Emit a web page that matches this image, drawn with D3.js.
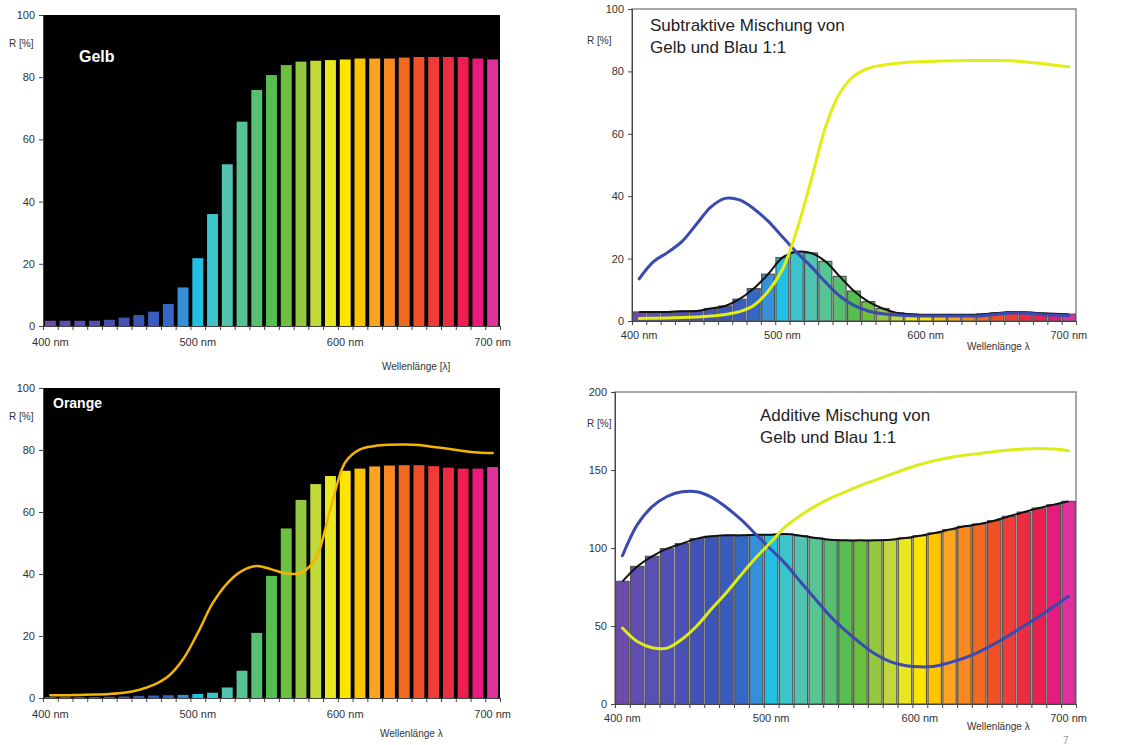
<!DOCTYPE html>
<html>
  <head>
    <meta charset="utf-8">
    <title>Gelb, Orange, Mischung</title>
    <style type="text/css">
        body { margin: 0; background: #fff; }
        svg { font-family: "Liberation Sans", Arial, sans-serif; display: block; }
        .tick text { fill: #333; }
        .domain { stroke: #444; }
        .tick line { stroke: #444; }
    </style>
  </head>
  <body>
    <svg width="1137" height="745"></svg>
    <script src="https://d3js.org/d3.v7.min.js"></script>
    <script>

    // Wavelengths (10 nm steps) and bar colours
    var wavelengths = d3.range(400, 701, 10);
    var spectrum = ["#6c4aae", "#604fb0", "#5a50b2", "#5250b4", "#4a50b4", "#4252b6", "#3c56b8",
        "#3a5cbe", "#3468c6", "#3590d8", "#22c0e2", "#3cc4cc", "#50c4b0", "#58c494", "#56c070",
        "#56be50", "#6cc040", "#94c840", "#c0d838", "#e8e820", "#ffe400", "#ffc400", "#fca420",
        "#f88820", "#f26a20", "#f05028", "#ee3c38", "#ec2c40", "#ec2050", "#e81a7c", "#e0309c"];
    var xLabels = [400, 500, 600, 700];

    // Gelb
    var gelbBars = [1.7, 1.7, 1.7, 1.7, 2, 2.7, 3.5, 4.6, 7.1, 12.4, 21.8, 36, 52, 65.7, 75.9, 80.7,
        83.9, 85, 85.3, 85.5, 85.7, 86, 86, 86, 86.3, 86.5, 86.5, 86.5, 86.5, 86, 85.7];

    // Orange
    var orangeBars = [0.3, 0.3, 0.3, 0.3, 0.4, 0.5, 0.7, 0.8, 0.9, 1.0, 1.3, 1.7, 3.4, 8.8, 21, 39.4,
        54.7, 63.9, 69, 71.6, 73.3, 74, 74.7, 75, 75.1, 75.1, 74.8, 74.3, 74, 74, 74.5];
    var orangeLine = [0.9, 0.9, 1.0, 1.1, 1.3, 1.7, 2.6, 4.2, 7, 12.5, 21, 30.5, 37, 41, 42.6, 41.5,
        40.2, 40.4, 45, 61, 76, 80.2, 81.3, 81.7, 81.8, 81.6, 81, 80.4, 79.7, 79.2, 79];

    // Subtraktive Mischung
    var subBars = [2.9, 2.9, 2.9, 3.1, 3.2, 4, 4.8, 7, 10.4, 15, 20.3, 22.2, 21.8, 19.1, 14.3, 9.6,
        6.2, 4, 2.6, 2.2, 2, 2, 2, 2, 2.2, 2.6, 2.9, 2.8, 2.5, 2.3, 2.2];
    var subBlue = [13.5, 19, 22, 25.5, 31, 36.5, 39.3, 38.8, 36, 32, 27, 22, 17.5, 12.5, 8, 5,
        3.2, 2.3, 1.9, 1.7, 1.6, 1.6, 1.6, 1.6, 1.7, 2.2, 2.6, 2.5, 2.1, 1.9, 1.8];
    var subYellow = [0.8, 0.9, 1.0, 1.1, 1.3, 1.6, 2.1, 3, 5, 9.5, 16.5, 29, 45, 62, 73, 78.5,
        81, 82, 82.6, 83, 83.2, 83.3, 83.4, 83.5, 83.5, 83.5, 83.4, 83, 82.6, 82, 81.5];

    // Additive Mischung
    var addBars = [78.6, 88.2, 94.7, 99.6, 102.8, 106, 107.5, 108.1, 108.1, 108.5, 108.5, 109, 107.9,
        106.4, 105.3, 104.9, 104.9, 104.9, 105.3, 106.4, 107.9, 109.6, 111.8, 113.9, 115.4, 117.5,
        120.3, 123, 125.6, 127.8, 129.9];
    var addBlue = [95, 115, 126.5, 133, 136, 136, 132.5, 126, 118, 108.5, 99, 89.5, 78, 67, 56, 47,
        39, 32, 27.2, 24.7, 23.8, 24.2, 26.5, 29.5, 33.5, 38.5, 44, 50, 56, 62.5, 69];
    var addYellow = [48.7, 40, 36, 35.8, 41.5, 50, 61, 71.5, 83, 94, 104, 114, 121, 127, 132, 136,
        140, 143.5, 147, 150.5, 153.5, 156, 158, 159.5, 160.5, 161.8, 162.8, 163.5, 163.8, 163.5, 162.4];

    var svg = d3.select("svg");

    function panel(p) {
        var x = d3.scaleBand().domain(wavelengths).range([p.x0, p.x1]).paddingInner(p.pad).paddingOuter(p.pad / 2);
        var xl = d3.scaleLinear().domain([395, 705]).range([p.x0, p.x1]);
        var y = d3.scaleLinear().domain([0, p.yMax]).range([p.y0, p.y1]);
        var g = svg.append("g");

        // plot background
        g.append("rect")
            .attr("x", p.x0).attr("y", p.y1)
            .attr("width", p.x1 - p.x0).attr("height", p.y0 - p.y1)
            .attr("fill", p.dark ? "#000" : "#fff")
            .attr("stroke", p.dark ? "none" : "#8a8a8a")
            .attr("stroke-width", 1.5);

        // bars
        g.append("g").selectAll("rect")
            .data(p.bars)
            .enter().append("rect")
            .attr("x", function(d, i) { return x(wavelengths[i]); })
            .attr("width", x.bandwidth())
            .attr("y", function(d) { return y(d); })
            .attr("height", function(d) { return p.y0 - y(d); })
            .attr("fill", function(d, i) { return spectrum[i]; })
            .attr("stroke", p.dark ? "none" : "#555")
            .attr("stroke-width", 1.2);

        var line = d3.line()
            .x(function(d, i) { return x(wavelengths[i]) + x.bandwidth() / 2; })
            .y(function(d) { return y(d); })
            .curve(d3.curveCatmullRom);

        // outline over the bar tops
        if (p.outline) {
            g.append("path").datum(p.bars)
                .attr("d", line).attr("fill", "none")
                .attr("stroke", "#111").attr("stroke-width", 2);
        }

        (p.lines || []).forEach(function(l) {
            g.append("path").datum(l.values)
                .attr("d", line).attr("fill", "none")
                .attr("stroke", l.color).attr("stroke-width", l.width)
                .attr("stroke-linecap", "round");
        });

        // axes
        g.append("g")
            .attr("transform", "translate(" + p.x0 + ",0)")
            .call(d3.axisLeft(y).tickValues(d3.range(0, p.yMax + 1, p.yStep)).tickSize(4).tickPadding(4))
            .call(function(a) { a.selectAll("text").attr("font-size", 11); });

        g.append("g")
            .attr("transform", "translate(0," + p.y0 + ")")
            .call(d3.axisBottom(xl).tickValues(d3.range(395, 706, 10)).tickSize(4).tickFormat(""));

        g.append("g")
            .attr("transform", "translate(0," + p.y0 + ")")
            .call(d3.axisBottom(x).tickValues(xLabels).tickSize(0).tickPadding(p.labelPad)
                .tickFormat(function(d) { return d + " nm"; }))
            .call(function(a) {
                a.select(".domain").remove();
                a.selectAll("text").attr("font-size", 11);
            });

        g.append("text")
            .attr("x", p.rx).attr("y", p.ry)
            .attr("font-size", 10).attr("fill", "#333")
            .text("R [%]");

        g.append("text")
            .attr("x", p.wx).attr("y", p.wy)
            .attr("font-size", 10).attr("fill", "#333")
            .text(p.xTitle);

        p.title.forEach(function(t, i) {
            g.append("text")
                .attr("x", p.tx).attr("y", p.ty + i * p.tdy)
                .attr("font-size", p.tsize)
                .attr("font-weight", p.dark ? "bold" : "normal")
                .attr("fill", p.dark ? "#fff" : "#222")
                .text(t);
        });
    }

    panel({ x0: 43, x1: 500, y0: 326, y1: 15, yMax: 100, yStep: 20, dark: true, pad: 0.26,
        bars: gelbBars, labelPad: 12, rx: 9, ry: 47, wx: 382, wy: 370,
        xTitle: "Wellenlänge [λ]", title: ["Gelb"], tx: 79, ty: 62, tdy: 0, tsize: 16 });

    panel({ x0: 43, x1: 500, y0: 698, y1: 388, yMax: 100, yStep: 20, dark: true, pad: 0.26,
        bars: orangeBars, labelPad: 12, rx: 9, ry: 420, wx: 380, wy: 737,
        xTitle: "Wellenlänge λ", title: ["Orange"], tx: 53, ty: 408, tdy: 0, tsize: 14,
        lines: [{ values: orangeLine, color: "#f5b400", width: 2.5 }] });

    panel({ x0: 632, x1: 1076, y0: 321, y1: 9, yMax: 100, yStep: 20, dark: false, pad: 0.1,
        bars: subBars, outline: true, labelPad: 10, rx: 587, ry: 44, wx: 967, wy: 350,
        xTitle: "Wellenlänge λ", title: ["Subtraktive Mischung von", "Gelb und Blau 1:1"],
        tx: 650, ty: 31, tdy: 22, tsize: 17,
        lines: [{ values: subBlue, color: "#3a4ab0", width: 3 },
                { values: subYellow, color: "#e2ee12", width: 3 }] });

    panel({ x0: 615, x1: 1076, y0: 704, y1: 392, yMax: 200, yStep: 50, dark: false, pad: 0.1,
        bars: addBars, outline: true, labelPad: 10, rx: 587, ry: 427, wx: 967, wy: 730,
        xTitle: "Wellenlänge λ", title: ["Additive Mischung von", "Gelb und Blau 1:1"],
        tx: 760, ty: 421, tdy: 22, tsize: 17,
        lines: [{ values: addBlue, color: "#3a4ab0", width: 3 },
                { values: addYellow, color: "#dcec18", width: 3 }] });

    svg.append("text")
        .attr("x", 1063).attr("y", 744)
        .attr("font-size", 10).attr("fill", "#999")
        .text("7");

    </script>
  </body>
</html>
